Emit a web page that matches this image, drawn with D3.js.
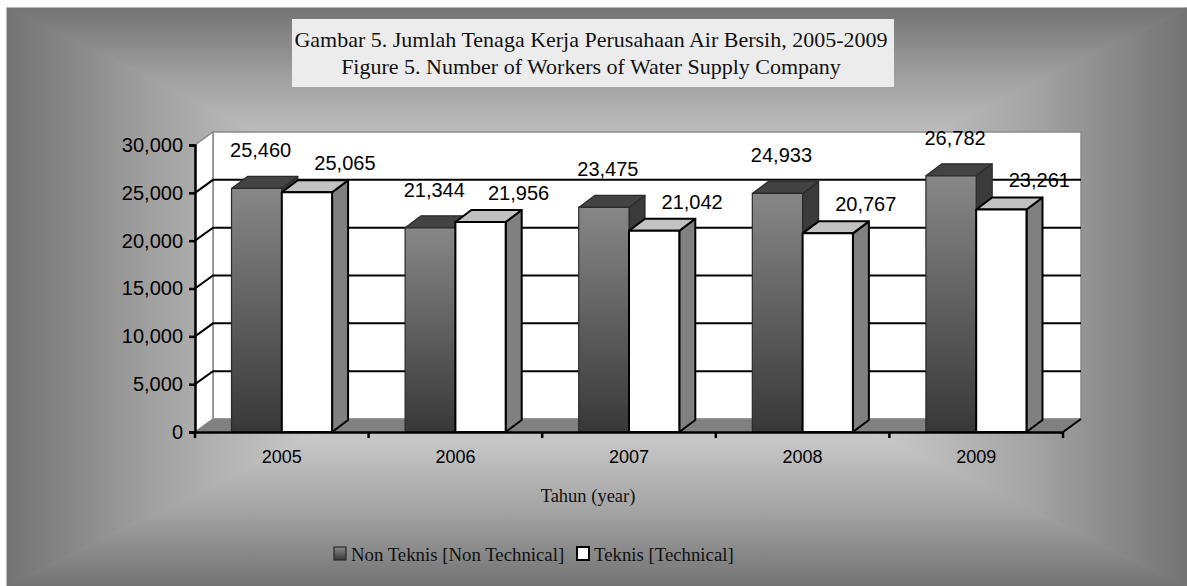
<!DOCTYPE html>
<html lang="en">
<head>
    <meta charset="UTF-8">
    <title>Jumlah Tenaga Kerja Perusahaan Air Bersih</title>
    <script src="https://d3js.org/d3.v7.min.js"></script>
    <style>
        body { margin: 0; background: #fff; }
        svg { display: block; }
        .serif { font-family: "Liberation Serif", "Times New Roman", serif; fill: #111; }
        .sans { font-family: "Liberation Sans", Arial, sans-serif; fill: #000; }
    </style>
</head>
<body>
<div id="chart"></div>
<script>
    // data
    const years = ['2005', '2006', '2007', '2008', '2009'];
    const nonTechnical = [25460, 21344, 23475, 24933, 26782];
    const technical = [25065, 21956, 21042, 20767, 23261];
    const seriesNames = ['Non Teknis [Non Technical]', 'Teknis [Technical]'];
    const yTicks = [0, 5000, 10000, 15000, 20000, 25000, 30000];
    const titleLines = ['Gambar 5. Jumlah Tenaga Kerja Perusahaan Air Bersih, 2005-2009',
                        'Figure 5. Number of Workers of Water Supply Company'];
    const xTitle = 'Tahun (year)';

    const W = 1187, H = 586;
    const svg = d3.select('#chart').append('svg')
        .attr('width', W)
        .attr('height', H);
    const defs = svg.append('defs');

    // outer area with a "from centre" rectangular gradient (4 triangles)
    const bg = { x0: 7, y0: 8, x1: 1187, y1: 586 };
    const cx = (bg.x0 + bg.x1) / 2, cy = (bg.y0 + bg.y1) / 2;
    const bgStops = [[0, '#e6e6e6'], [0.5, '#c6c6c6'], [0.75, '#a2a2a2'], [1, '#737373']];
    const tris = [
        { id: 'bgT', pts: [[bg.x0, bg.y0], [bg.x1, bg.y0], [cx, cy]], g: [cx, cy, cx, bg.y0] },
        { id: 'bgB', pts: [[bg.x0, bg.y1], [bg.x1, bg.y1], [cx, cy]], g: [cx, cy, cx, bg.y1] },
        { id: 'bgL', pts: [[bg.x0, bg.y0], [bg.x0, bg.y1], [cx, cy]], g: [cx, cy, bg.x0, cy] },
        { id: 'bgR', pts: [[bg.x1, bg.y0], [bg.x1, bg.y1], [cx, cy]], g: [cx, cy, bg.x1, cy] }
    ];
    tris.forEach(t => {
        const lg = defs.append('linearGradient').attr('id', t.id)
            .attr('gradientUnits', 'userSpaceOnUse')
            .attr('x1', t.g[0]).attr('y1', t.g[1]).attr('x2', t.g[2]).attr('y2', t.g[3]);
        bgStops.forEach(s => lg.append('stop').attr('offset', s[0]).attr('stop-color', s[1]));
        svg.append('polygon')
            .attr('points', t.pts.map(p => p.join(',')).join(' '))
            .attr('fill', `url(#${t.id})`)
            .attr('stroke', `url(#${t.id})`)
            .attr('stroke-width', 1);
    });

    // gradient for the dark bars
    const darkGrad = defs.append('linearGradient').attr('id', 'darkFront')
        .attr('x1', 0).attr('y1', 0).attr('x2', 0).attr('y2', 1);
    darkGrad.append('stop').attr('offset', 0).attr('stop-color', '#878787');
    darkGrad.append('stop').attr('offset', 1).attr('stop-color', '#383838');

    // title box
    svg.append('rect')
        .attr('x', 292).attr('y', 19)
        .attr('width', 602).attr('height', 68)
        .attr('fill', '#ececec');
    svg.selectAll('.title')
        .data(titleLines)
        .enter()
        .append('text')
        .attr('class', 'serif title')
        .attr('x', 591)
        .attr('y', (d, i) => 47 + i * 27)
        .attr('text-anchor', 'middle')
        .style('font-size', '22px')
        .text(d => d);

    // plot geometry (front plane + depth offset)
    const left = 195, right = 1063;
    const depth = { dx: 18, dy: -13 };
    const barDepth = { dx: 16, dy: -12 };

    const y = d3.scaleLinear().domain([0, 30000]).range([432, 145]);
    const x0 = d3.scaleBand().domain(years).range([left, right]);
    const x1 = d3.scaleBand().domain(seriesNames).range([0, x0.bandwidth()]).paddingOuter(0.726);

    const pts = arr => arr.map(p => p.join(',')).join(' ');
    const y0 = y(0), yMax = y(30000);

    // back wall
    svg.append('rect')
        .attr('x', left + depth.dx).attr('y', yMax + depth.dy)
        .attr('width', right - left).attr('height', y0 - yMax)
        .attr('fill', '#fff').attr('stroke', '#8a8a8a').attr('stroke-width', 1.5);
    // side wall
    svg.append('polygon')
        .attr('points', pts([[left, yMax], [left + depth.dx, yMax + depth.dy],
                             [left + depth.dx, y0 + depth.dy], [left, y0]]))
        .attr('fill', '#fff').attr('stroke', '#8a8a8a').attr('stroke-width', 1.5);
    // floor
    svg.append('polygon')
        .attr('points', pts([[left, y0], [right, y0],
                             [right + depth.dx, y0 + depth.dy], [left + depth.dx, y0 + depth.dy]]))
        .attr('fill', '#808080').attr('stroke', '#8a8a8a').attr('stroke-width', 1);

    // gridlines
    const grid = svg.append('g').attr('stroke', '#000').attr('stroke-width', 2).attr('fill', 'none');
    yTicks.filter(v => v > 0 && v < 30000).forEach(v => {
        grid.append('polyline')
            .attr('points', pts([[left, y(v)], [left + depth.dx, y(v) + depth.dy],
                                 [right + depth.dx, y(v) + depth.dy]]));
    });
    // right end of the floor edge
    grid.append('line')
        .attr('x1', right).attr('y1', y0)
        .attr('x2', right + depth.dx).attr('y2', y0 + depth.dy);

    // bars
    const groups = years.map((yr, i) => ({ year: yr, values: [nonTechnical[i], technical[i]] }));
    const styles = [
        { front: 'url(#darkFront)', top: '#434343', side: '#3b3b3b', stroke: '#2a2a2a', sw: 1.2 },
        { front: '#ffffff', top: '#c2c2c2', side: '#808080', stroke: '#000', sw: 2 }
    ];
    groups.forEach(g => {
        g.values.forEach((v, s) => {
            const st = styles[s];
            const bx = x0(g.year) + x1(seriesNames[s]);
            const bw = x1.bandwidth();
            const by = y(v);
            const b = svg.append('g')
                .attr('stroke', st.stroke).attr('stroke-width', st.sw)
                .attr('stroke-linejoin', 'round');
            b.append('polygon')
                .attr('points', pts([[bx + bw, by], [bx + bw + barDepth.dx, by + barDepth.dy],
                                     [bx + bw + barDepth.dx, y0 + barDepth.dy], [bx + bw, y0]]))
                .attr('fill', st.side);
            b.append('polygon')
                .attr('points', pts([[bx, by], [bx + barDepth.dx, by + barDepth.dy],
                                     [bx + bw + barDepth.dx, by + barDepth.dy], [bx + bw, by]]))
                .attr('fill', st.top);
            b.append('rect')
                .attr('x', bx).attr('y', by)
                .attr('width', bw).attr('height', y0 - by)
                .attr('fill', st.front);
        });
    });

    // value labels
    const labelShift = [{ dx: 4, dy: -31 }, { dx: 38, dy: -22 }];
    groups.forEach(g => {
        g.values.forEach((v, s) => {
            svg.append('text')
                .attr('class', 'sans')
                .attr('x', x0(g.year) + x1(seriesNames[s]) + x1.bandwidth() / 2 + labelShift[s].dx)
                .attr('y', y(v) + labelShift[s].dy)
                .attr('text-anchor', 'middle')
                .style('font-size', '20px')
                .text(d3.format(',')(v));
        });
    });

    // y axis
    const yAxis = svg.append('g')
        .attr('transform', `translate(${left},0)`)
        .call(d3.axisLeft(y).tickValues(yTicks).tickFormat(d3.format(',')).tickSize(6).tickPadding(6));
    yAxis.select('.domain').attr('stroke', '#000').attr('stroke-width', 2.5);
    yAxis.selectAll('.tick line').attr('stroke', '#000').attr('stroke-width', 2.5);
    yAxis.selectAll('.tick text')
        .attr('class', 'sans')
        .style('font-size', '20px')
        .attr('fill', '#000');

    // x axis
    const xAxis = svg.append('g')
        .attr('transform', `translate(0,${y0})`)
        .call(d3.axisBottom(x0).tickSize(0).tickPadding(18));
    xAxis.select('.domain').attr('stroke', '#000').attr('stroke-width', 2.5);
    xAxis.selectAll('.tick text')
        .attr('class', 'sans')
        .style('font-size', '18px')
        .attr('fill', '#000');
    // category separators
    xAxis.selectAll('.sep')
        .data(years.concat(['end']))
        .enter()
        .append('line')
        .attr('x1', (d, i) => i < years.length ? x0(d) : right)
        .attr('x2', (d, i) => i < years.length ? x0(d) : right)
        .attr('y1', 0).attr('y2', 6)
        .attr('stroke', '#000').attr('stroke-width', 2.5);

    // axis title
    svg.append('text')
        .attr('class', 'serif')
        .attr('x', 588).attr('y', 502)
        .attr('text-anchor', 'middle')
        .style('font-size', '18.5px')
        .text(xTitle);

    // legend
    const legendPos = [334, 577];
    const legend = svg.selectAll('.legend')
        .data(seriesNames)
        .enter()
        .append('g')
        .attr('class', 'legend')
        .attr('transform', (d, i) => `translate(${legendPos[i]},547)`);
    legend.append('rect')
        .attr('width', 12).attr('height', 13)
        .attr('fill', (d, i) => styles[i].front)
        .attr('stroke', (d, i) => styles[i].stroke)
        .attr('stroke-width', (d, i) => styles[i].sw);
    legend.append('text')
        .attr('class', 'serif')
        .attr('x', 17).attr('y', 14)
        .style('font-size', '18.8px')
        .text(d => d);
</script>
</body>
</html>
